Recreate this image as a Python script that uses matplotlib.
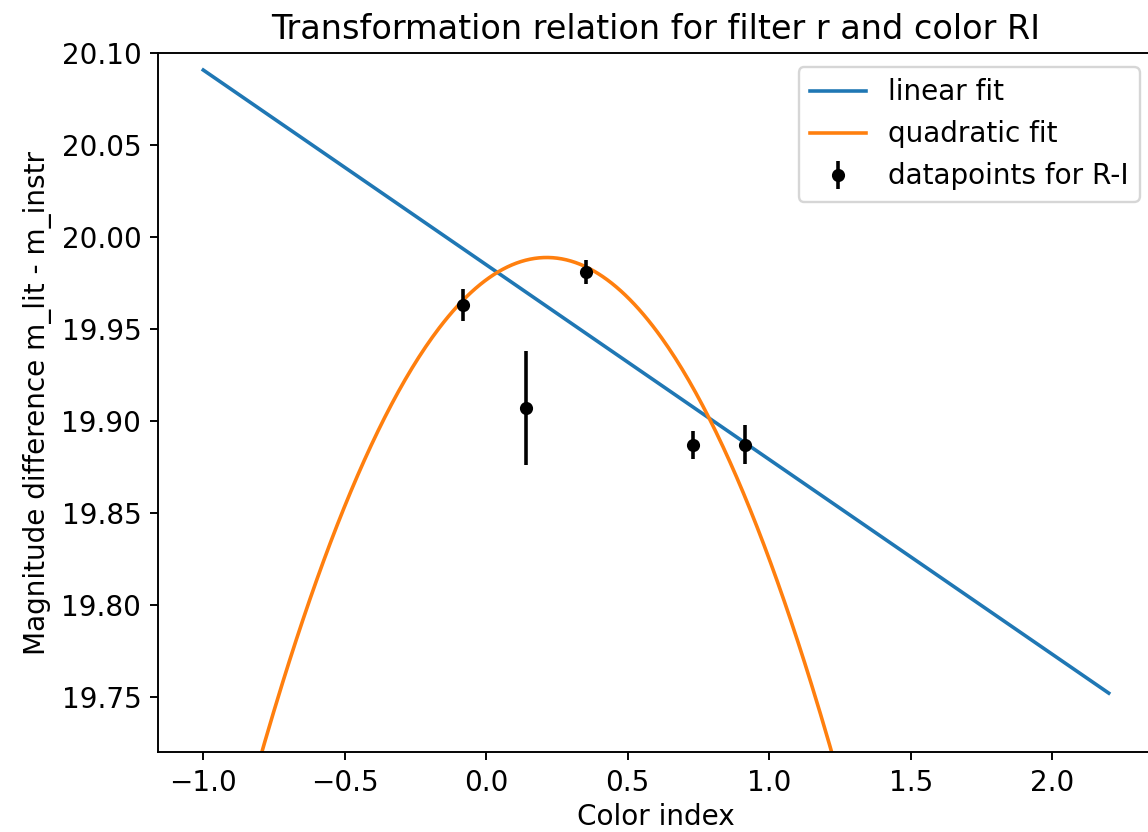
import numpy as np
from matplotlib import pyplot as plt

# datapoints (R-I colour index vs magnitude difference)
color_idx = [-0.082, 0.141, 0.353, 0.730, 0.915]
mag_diff = [19.963, 19.907, 19.981, 19.887, 19.887]
mag_err = [0.0086, 0.031, 0.0065, 0.0075, 0.0106]

# fit coefficients (highest power first)
lin_coef = [-0.1059, 19.985]
quad_coef = [-0.2653, 0.1135, 19.9768]
fit_range = [-1.0, 2.2]

plt.rcParams['font.size'] = 11.7

fig = plt.figure(figsize=(1148/172, 832/172), dpi=172)
ax = fig.add_axes([158/1148, 80/832, 996/1148, 698.7/832])

xs = np.linspace(fit_range[0], fit_range[1], 400)
ax.plot(xs, np.polyval(lin_coef, xs), label='linear fit')
ax.plot(xs, np.polyval(quad_coef, xs), label='quadratic fit')
ax.errorbar(color_idx, mag_diff, yerr=mag_err, fmt='o', color='k',
            markersize=4.5, label='datapoints for R-I')

ax.set_xlim(-1.16, 2.36)
ax.set_ylim(19.72, 20.10)
ax.set_xlabel('Color index', labelpad=2.5)
ax.set_ylabel('Magnitude difference m_lit - m_instr')
ax.set_title('Transformation relation for filter r and color RI', fontsize=14)
ax.legend(loc='upper right')

fig.savefig('out.png', dpi=172)
